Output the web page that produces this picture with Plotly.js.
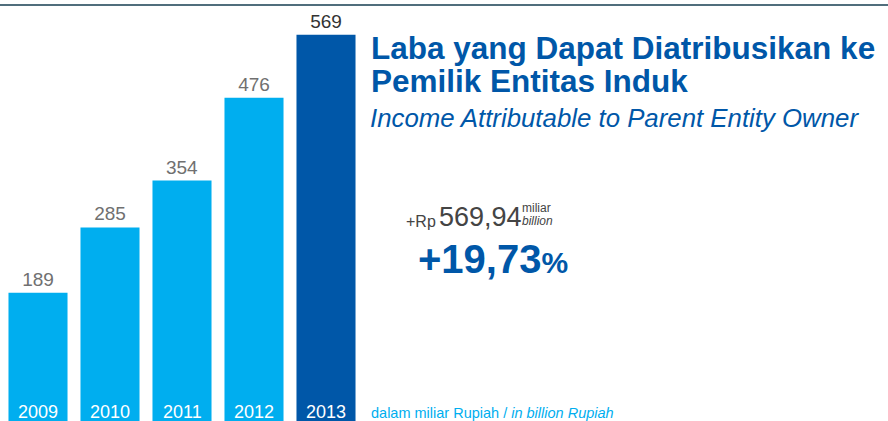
<!DOCTYPE html>
<html><head><meta charset="utf-8">
<script src="https://cdn.plot.ly/plotly-3.0.1.min.js"></script>
<style>html,body{margin:0;padding:0;background:#fff;}#chart{width:888px;height:421px;}</style>
</head><body><div id="chart"></div>
<script>
const years = ['2009','2010','2011','2012','2013'];
const values = [189, 285, 354, 476, 569];
const barColors = ['#00aeef','#00aeef','#00aeef','#00aeef','#0057a8'];
const labelColors = ['#707070','#707070','#707070','#707070','#333333'];

const W = 888, H = 421;
const L = 2, R = 526, T = 0, B = 0;
const PW = W - L - R, PH = H - T - B;
const px = x => (x - L) / PW;
const py = y => 1 - (y - T) / PH;
const sans = '"Liberation Sans", Arial, sans-serif';

const trace = {
  type: 'bar', x: years, y: values,
  marker: {color: barColors},
  text: values.map(String), textposition: 'outside', cliponaxis: false,
  textfont: {family: sans, size: 19, color: labelColors},
  hoverinfo: 'none'
};

const ann = years.map((yr, i) => ({
  x: i, xref: 'x', y: py(412), yref: 'paper', yanchor: 'middle',
  text: yr, showarrow: false, font: {family: sans, size: 18, color: '#ffffff'}
}));

ann.push(
  {x: px(369), y: py(48), xref:'paper', yref:'paper', xanchor:'left', yanchor:'middle', showarrow:false,
   text:'<b>Laba yang Dapat Diatribusikan ke</b>', font:{family:sans, size:31.5, color:'#0057a8'}},
  {x: px(369), y: py(81), xref:'paper', yref:'paper', xanchor:'left', yanchor:'middle', showarrow:false,
   text:'<b>Pemilik Entitas Induk</b>', font:{family:sans, size:31.5, color:'#0057a8'}},
  {x: px(368), y: py(118), xref:'paper', yref:'paper', xanchor:'left', yanchor:'middle', showarrow:false,
   text:'<i>Income Attributable to Parent Entity Owner</i>', font:{family:sans, size:25.8, color:'#0057a8'}},
  {x: px(404), y: py(221), xref:'paper', yref:'paper', xanchor:'left', yanchor:'middle', showarrow:false,
   text:'+Rp', font:{family:sans, size:16, color:'#444444'}},
  {x: px(437), y: py(217), xref:'paper', yref:'paper', xanchor:'left', yanchor:'middle', showarrow:false,
   text:'569,94', font:{family:sans, size:27, color:'#444444'}},
  {x: px(520), y: py(208), xref:'paper', yref:'paper', xanchor:'left', yanchor:'middle', showarrow:false,
   text:'miliar', font:{family:sans, size:12, color:'#444444'}},
  {x: px(520), y: py(221), xref:'paper', yref:'paper', xanchor:'left', yanchor:'middle', showarrow:false,
   text:'<i>billion</i>', font:{family:sans, size:12, color:'#444444'}},
  {x: px(416), y: py(259), xref:'paper', yref:'paper', xanchor:'left', yanchor:'middle', showarrow:false,
   text:'<b>+19,73<span style="font-size:30px">%</span></b>', font:{family:sans, size:40, color:'#0057a8'}},
  {x: px(369), y: py(413), xref:'paper', yref:'paper', xanchor:'left', yanchor:'middle', showarrow:false,
   text:'dalam miliar Rupiah / <i>in billion Rupiah</i>', font:{family:sans, size:14.5, color:'#00aeef'}}
);

const layout = {
  width: W, height: H,
  margin: {l: L, r: R, t: T, b: B, pad: 0},
  paper_bgcolor: '#ffffff', plot_bgcolor: '#ffffff',
  bargap: 0.18, showlegend: false,
  xaxis: {type:'category', range:[-0.5, 4.5], showgrid:false, zeroline:false, showline:false, showticklabels:false, ticks:'', fixedrange:true},
  yaxis: {range:[0, 620], showgrid:false, zeroline:false, showline:false, showticklabels:false, ticks:'', fixedrange:true},
  shapes: [{type:'line', xref:'paper', yref:'paper', x0: px(0), x1: px(888), y0: py(5), y1: py(5),
            line:{color:'#506e7c', width:2}}],
  annotations: ann
};

Plotly.newPlot('chart', [trace], layout, {displayModeBar:false, staticPlot:true});
</script></body></html>
